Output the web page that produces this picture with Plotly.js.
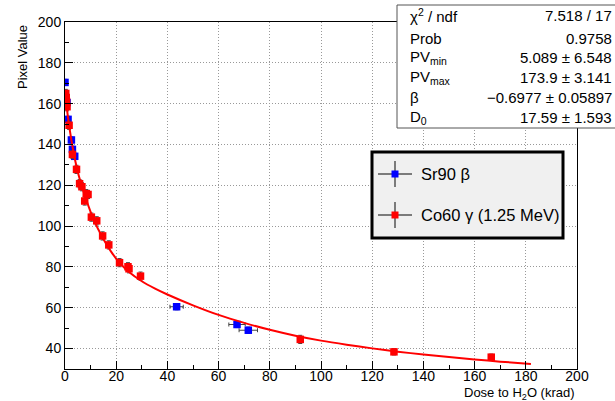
<!DOCTYPE html>
<html>
<head>
<meta charset="utf-8">
<script src="https://cdn.plot.ly/plotly-3.0.1.min.js"></script>
<style>html,body{margin:0;padding:0;background:#fff;}#chart{width:615px;height:401px;}</style>
</head>
<body>
<div id="chart"></div>
<script>
// Sr90 beta data
const srDose    = [0, 0.8, 1.2, 2.5, 2.9, 3.8, 43.6, 67.2, 71.6];
const srPV      = [170.4, 160.5, 152.3, 142.2, 137.6, 134.2, 60.5, 51.8, 49.0];
const srDoseErr = [0.2, 0.2, 0.2, 0.2, 0.2, 0.2, 2.6, 3.2, 3.6];
const srPVErr   = [1.5, 1.5, 1.5, 1.5, 1.5, 1.5, 1.5, 1.5, 1.5];

// Co60 gamma data
const coDose  = [0.3, 0.5, 0.6, 0.8, 1.6, 2.9, 4.5, 5.7, 6.6, 7.7, 8.3, 9.0, 10.3, 12.4, 14.7, 17.1, 21.3, 24.6, 25.0, 29.5, 91.9, 128.5, 166.5];
const coPV    = [165, 163, 161, 158.5, 149.4, 135.1, 127.8, 120.8, 119.3, 112.3, 115.9, 115.5, 104.4, 102.6, 95.2, 90.8, 82.1, 80.1, 79.1, 75.5, 44.5, 38.4, 35.8];
const coPVErr = [2, 2, 2, 2, 2, 2, 2, 2, 2, 2, 2, 2, 2, 2, 2, 2, 2, 2, 2, 2, 2, 1.5, 1.5];

// Fit curve
const fitDose = [0, 1, 2, 3, 4, 5, 6, 8, 10, 12, 14, 16, 18, 21, 25, 30, 35, 40, 50, 60, 70, 80, 90, 100, 110, 120, 130, 140, 150, 160, 170, 182];
const fitPV   = [166, 155, 146, 138.5, 132, 126.5, 122, 114, 107, 101, 96, 91.5, 87.5, 82.5, 77.5, 73, 69.5, 66.5, 61.2, 56.5, 52.6, 49.2, 46.3, 43.9, 41.9, 40.1, 38.5, 37.1, 35.9, 34.7, 33.6, 32.5];

// Axis ticks
const xTicks = [0, 20, 40, 60, 80, 100, 120, 140, 160, 180, 200];
const yTicks = [40, 60, 80, 100, 120, 140, 160, 180, 200];

// Stats box
const statLabels = ['χ<sup>2</sup> / ndf', 'Prob', 'PV<sub>min</sub>', 'PV<sub>max</sub>', 'β', 'D<sub>0</sub>'];
const statValues = ['7.518 / 17', '0.9758', '5.089 ± 6.548', '173.9 ± 3.141', '−0.6977 ± 0.05897', '17.59 ± 1.593'];

// Legend
const legendNames = ['Sr90 β', 'Co60 γ (1.25 MeV)'];
const legendColors = ['#0000ff', '#ff0000'];

const FONT = 'Liberation Sans, Arial, Helvetica, sans-serif';
const W = 615, H = 401, L = 65, R = 38, T = 22, B = 32;
const PW = W - L - R, PH = H - T - B;
const px = v => (v - L) / PW;
const py = v => (H - B - v) / PH;

const errStyle = {color: '#444', thickness: 1, width: 2};

const traces = [
  {
    x: srDose, y: srPV, type: 'scatter', mode: 'markers',
    marker: {symbol: 'square', size: 7.5, color: '#0000ff'},
    error_x: Object.assign({type: 'data', array: srDoseErr, visible: true}, errStyle),
    error_y: Object.assign({type: 'data', array: srPVErr, visible: true}, errStyle),
    showlegend: false, hoverinfo: 'skip'
  },
  {
    x: coDose, y: coPV, type: 'scatter', mode: 'markers',
    marker: {symbol: 'square', size: 7.5, color: '#ff0000'},
    error_y: Object.assign({type: 'data', array: coPVErr, visible: true}, errStyle),
    showlegend: false, hoverinfo: 'skip'
  },
  {
    x: fitDose, y: fitPV, type: 'scatter', mode: 'lines',
    line: {color: '#ff0000', width: 2, shape: 'spline', smoothing: 0.8},
    showlegend: false, hoverinfo: 'skip'
  }
];

const shapes = [];
const annotations = [];

// Stats box
shapes.push({type: 'rect', xref: 'paper', yref: 'paper', layer: 'above',
  x0: px(397), x1: px(617), y0: py(128), y1: py(5),
  line: {color: '#555', width: 1}, fillcolor: '#ffffff'});
const statY = [16, 38, 57, 77, 98, 117];
statLabels.forEach((t, i) => {
  annotations.push({xref: 'paper', yref: 'paper', x: px(408), y: py(statY[i]),
    xanchor: 'left', yanchor: 'middle', showarrow: false, text: t,
    font: {family: FONT, size: 15, color: '#000'}});
  annotations.push({xref: 'paper', yref: 'paper', x: px(614), y: py(statY[i]),
    xanchor: 'right', yanchor: 'middle', showarrow: false, text: statValues[i],
    font: {family: FONT, size: 15, color: '#000'}});
});

// Legend box
shapes.push({type: 'rect', xref: 'paper', yref: 'paper', layer: 'above',
  x0: px(372), x1: px(563), y0: py(238), y1: py(152),
  line: {color: '#000', width: 3}, fillcolor: '#f0f0f0'});
const legY = [174, 215];
legendNames.forEach((n, i) => {
  const cy = legY[i];
  shapes.push({type: 'line', xref: 'paper', yref: 'paper', layer: 'above',
    x0: px(378), x1: px(412), y0: py(cy), y1: py(cy), line: {color: '#555', width: 1.5}});
  shapes.push({type: 'line', xref: 'paper', yref: 'paper', layer: 'above',
    x0: px(395), x1: px(395), y0: py(cy - 13), y1: py(cy + 13), line: {color: '#555', width: 1.5}});
  shapes.push({type: 'rect', xref: 'paper', yref: 'paper', layer: 'above',
    x0: px(391.5), x1: px(398.5), y0: py(cy + 3.5), y1: py(cy - 3.5),
    line: {width: 0}, fillcolor: legendColors[i]});
  annotations.push({xref: 'paper', yref: 'paper', x: px(419), y: py(cy),
    xanchor: 'left', yanchor: 'middle', showarrow: false, text: n,
    font: {family: FONT, size: 16.5, color: '#000'}});
});

// Axis titles
annotations.push({xref: 'paper', yref: 'paper', x: 1, y: py(393), xanchor: 'right', yanchor: 'middle',
  showarrow: false, text: 'Dose to H<sub>2</sub>O (krad)', font: {family: FONT, size: 13, color: '#000'}});
annotations.push({xref: 'paper', yref: 'paper', x: px(22), y: py(57), xanchor: 'center', yanchor: 'middle',
  showarrow: false, textangle: -90, text: 'Pixel Value', font: {family: FONT, size: 13, color: '#000'}});

const axisCommon = {
  showline: true, mirror: true, linecolor: '#000', linewidth: 1,
  ticks: 'inside', ticklen: 8, tickcolor: '#000', tickwidth: 1,
  showgrid: true, gridcolor: '#999', griddash: '1px,2px', gridwidth: 1,
  zeroline: false, tickfont: {family: FONT, size: 14, color: '#000'},
  minor: {ticks: 'inside', ticklen: 4, tickcolor: '#000', nticks: 5, showgrid: false}
};

const layout = {
  width: W, height: H,
  margin: {l: L, r: R, t: T, b: B, pad: 0},
  paper_bgcolor: '#fff', plot_bgcolor: '#fff',
  showlegend: false,
  xaxis: Object.assign({}, axisCommon, {range: [0, 200], tickmode: 'array', tickvals: xTicks, ticktext: xTicks.map(String), ticklabelstandoff: -6}),
  yaxis: Object.assign({}, axisCommon, {range: [30, 200], tickmode: 'array', tickvals: yTicks, ticktext: yTicks.map(String)}),
  shapes: shapes,
  annotations: annotations
};

Plotly.newPlot('chart', traces, layout, {displayModeBar: false, staticPlot: true});
</script>
</body>
</html>
